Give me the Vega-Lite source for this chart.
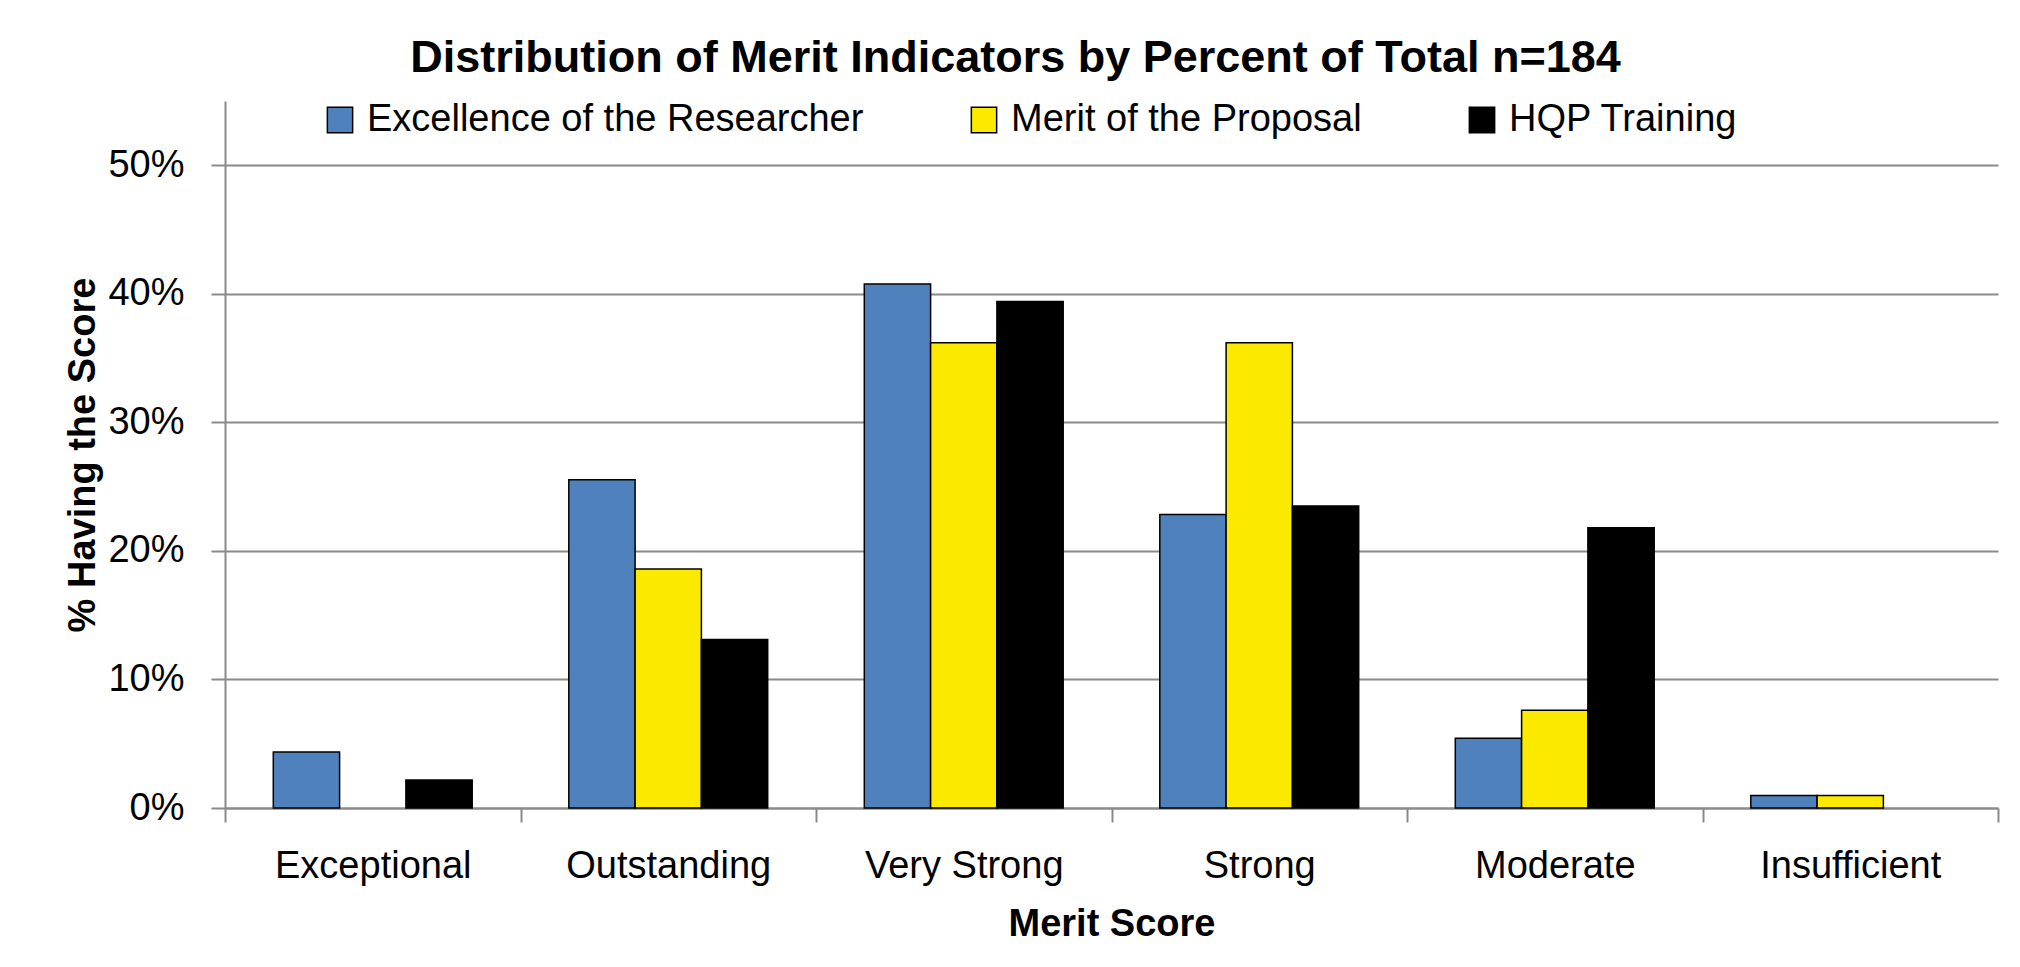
{
  "$schema": "https://vega.github.io/schema/vega-lite/v6.json",
  "width": 1773,
  "height": 707,
  "autosize": {"type": "none"},
  "padding": {"left": 225, "top": 101, "right": 22, "bottom": 159},
  "background": "white",
  "title": {
    "text": "Distribution of Merit Indicators by Percent of Total n=184",
    "font": "Liberation Sans",
    "fontSize": 45,
    "fontWeight": "bold",
    "color": "black",
    "anchor": "middle",
    "frame": "group",
    "dx": -96,
    "offset": 20
  },
  "data": {
    "values": [
      {"score": "Exceptional", "series": "Excellence of the Researcher", "pct": 0.0435},
      {"score": "Exceptional", "series": "Merit of the Proposal", "pct": 0},
      {"score": "Exceptional", "series": "HQP Training", "pct": 0.0217},
      {"score": "Outstanding", "series": "Excellence of the Researcher", "pct": 0.2554},
      {"score": "Outstanding", "series": "Merit of the Proposal", "pct": 0.186},
      {"score": "Outstanding", "series": "HQP Training", "pct": 0.131},
      {"score": "Very Strong", "series": "Excellence of the Researcher", "pct": 0.4076},
      {"score": "Very Strong", "series": "Merit of the Proposal", "pct": 0.362},
      {"score": "Very Strong", "series": "HQP Training", "pct": 0.394},
      {"score": "Strong", "series": "Excellence of the Researcher", "pct": 0.2283},
      {"score": "Strong", "series": "Merit of the Proposal", "pct": 0.362},
      {"score": "Strong", "series": "HQP Training", "pct": 0.235},
      {"score": "Moderate", "series": "Excellence of the Researcher", "pct": 0.0543},
      {"score": "Moderate", "series": "Merit of the Proposal", "pct": 0.0761},
      {"score": "Moderate", "series": "HQP Training", "pct": 0.218},
      {"score": "Insufficient", "series": "Excellence of the Researcher", "pct": 0.0098},
      {"score": "Insufficient", "series": "Merit of the Proposal", "pct": 0.0098},
      {"score": "Insufficient", "series": "HQP Training", "pct": 0}
    ]
  },
  "transform": [{"filter": "datum.pct > 0"}],
  "mark": {"type": "bar", "stroke": "black", "strokeWidth": 1.5},
  "encoding": {
    "x": {
      "field": "score",
      "type": "nominal",
      "sort": ["Exceptional", "Outstanding", "Very Strong", "Strong", "Moderate", "Insufficient"],
      "scale": {"paddingInner": 0, "paddingOuter": 0},
      "axis": {
        "title": "Merit Score",
        "labelAngle": 0,
        "labelLimit": 1000,
        "tickBand": "extent",
        "tickSize": 14,
        "tickColor": "#8a8a8a",
        "tickWidth": 2,
        "domainColor": "#8a8a8a",
        "domainWidth": 2,
        "labelPadding": 25,
        "labelFontSize": 38,
        "labelColor": "black",
        "titleFontSize": 38,
        "titleFontWeight": "bold",
        "titleColor": "black",
        "titlePadding": 20,
        "grid": false
      }
    },
    "xOffset": {
      "field": "series",
      "sort": ["Excellence of the Researcher", "Merit of the Proposal", "HQP Training"],
      "scale": {"domain": ["Excellence of the Researcher", "Merit of the Proposal", "HQP Training"], "paddingInner": 0, "paddingOuter": 0.7285}
    },
    "y": {
      "field": "pct",
      "type": "quantitative",
      "scale": {"domain": [0, 0.55], "nice": false},
      "axis": {
        "title": "% Having the Score",
        "values": [0, 0.1, 0.2, 0.3, 0.4, 0.5],
        "format": ".0%",
        "tickSize": 14,
        "tickColor": "#8a8a8a",
        "tickWidth": 2,
        "domainColor": "#8a8a8a",
        "domainWidth": 2,
        "gridColor": "#8a8a8a",
        "gridWidth": 2,
        "labelPadding": 27,
        "labelFontSize": 38,
        "labelColor": "black",
        "titleFontSize": 38,
        "titleFontWeight": "bold",
        "titleColor": "black",
        "titlePadding": 5
      }
    },
    "color": {
      "field": "series",
      "type": "nominal",
      "scale": {
        "domain": ["Excellence of the Researcher", "Merit of the Proposal", "HQP Training"],
        "range": ["#4F81BD", "#FBE900", "#000000"]
      },
      "legend": {
        "title": null,
        "orient": "none",
        "direction": "horizontal",
        "legendX": 96,
        "legendY": 0,
        "symbolType": "square",
        "symbolSize": 640,
        "symbolStrokeColor": "black",
        "symbolStrokeWidth": 1.5,
        "symbolOpacity": 1,
        "labelFontSize": 38,
        "labelColor": "black",
        "labelOffset": 8,
        "columnPadding": 101,
        "padding": 0,
        "labelLimit": 1000
      }
    }
  },
  "config": {
    "font": "Liberation Sans",
    "view": {"stroke": null}
  }
}
